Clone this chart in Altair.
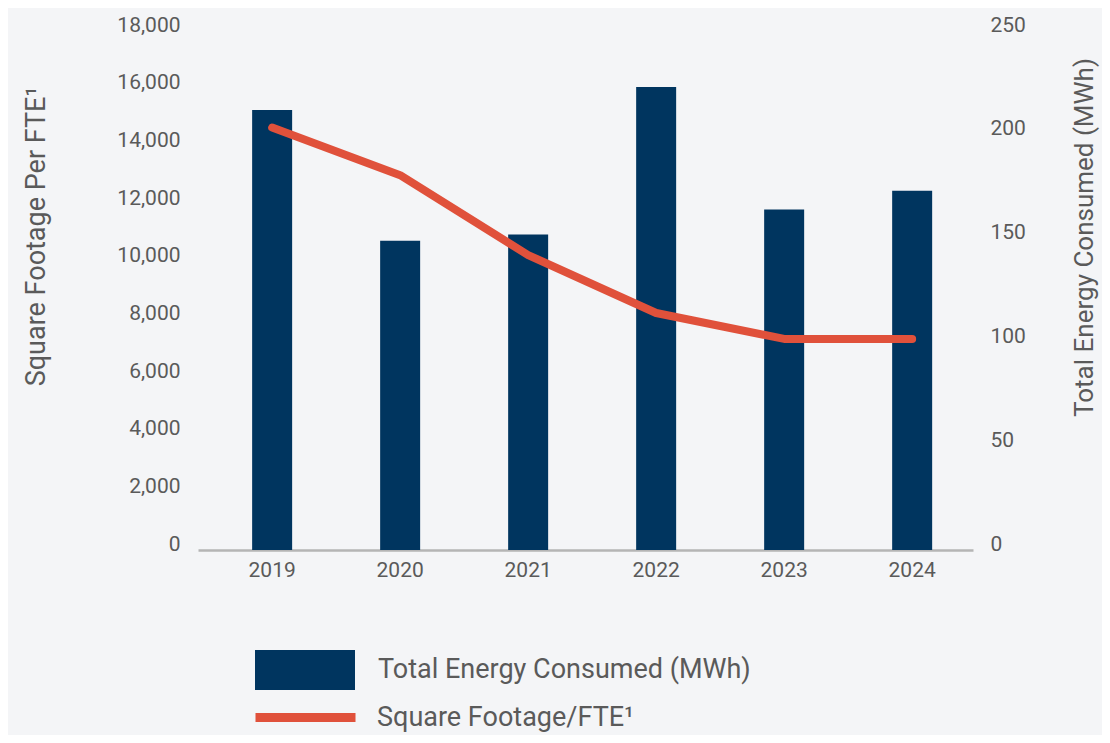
import altair as alt
import pandas as pd

years = ["2019", "2020", "2021", "2022", "2023", "2024"]
energy_mwh = [212, 149, 152, 223, 164, 173]
sqft_per_fte = [14650, 13000, 10230, 8220, 7320, 7320]

bar_label = "Total Energy Consumed (MWh)"
line_label = "Square Footage/FTE¹"

df = pd.DataFrame({"year": years, "energy": energy_mwh, "sqft": sqft_per_fte})

NAVY = "#00355F"
RED = "#E0513B"
TEXT = "#5A5A5A"
BG = "#F4F5F7"
FONT = "Roboto"

x = alt.X(
    "year:N",
    title=None,
    sort=years,
    scale=alt.Scale(paddingInner=0.6875, paddingOuter=0.371, align=0.57),
    axis=alt.Axis(
        labelAngle=0, labelFontSize=21, labelColor=TEXT, labelFont=FONT,
        ticks=False, domainColor="#B5B5B5", domainWidth=2.5, labelPadding=9,
        grid=False,
    ),
)

bars = alt.Chart(df).transform_calculate(s=f"'{bar_label}'").mark_bar(color=NAVY).encode(
    x=x,
    y=alt.Y(
        "energy:Q",
        title="Total Energy Consumed (MWh)",
        scale=alt.Scale(domain=[0, 250], nice=False),
        axis=alt.Axis(
            orient="right", values=[0, 50, 100, 150, 200, 250], grid=False, domain=False,
            ticks=False, labelFontSize=21, labelColor=TEXT, labelFont=FONT,
            labelBaseline="alphabetic", labelPadding=17, labelOverlap=False,
            titleFontSize=26, titleFont=FONT, titleColor=TEXT, titleFontWeight="normal",
            titleAngle=270, titleAlign="center", titleBaseline="middle",
            titleX=111, titleY=206,
        ),
    ),
    fill=alt.Fill(
        "s:N",
        scale=alt.Scale(domain=[bar_label], range=[NAVY]),
        legend=alt.Legend(
            title=None, orient="none", legendX=57, legendY=589,
            symbolType="M-1,-0.4H1V0.4H-1Z", symbolSize=10000, symbolStrokeWidth=0,
            symbolOpacity=1, labelFontSize=27, labelFont=FONT, labelColor=TEXT,
            labelOffset=23, labelLimit=600,
        ),
    ),
)

line = alt.Chart(df).transform_calculate(s=f"'{line_label}'").mark_line(
    color=RED, strokeWidth=8, strokeCap="round", strokeJoin="round"
).encode(
    x=x,
    y=alt.Y(
        "sqft:Q",
        title="Square Footage Per FTE¹",
        scale=alt.Scale(domain=[0, 18000], nice=False),
        axis=alt.Axis(
            orient="left", values=list(range(0, 18001, 2000)), format=",d", grid=False,
            domain=False, ticks=False, labelFontSize=21, labelColor=TEXT, labelFont=FONT,
            labelBaseline="alphabetic", labelPadding=18, labelOverlap=False,
            titleFontSize=27, titleFont=FONT, titleColor=TEXT, titleFontWeight="normal",
            titleAngle=270, titleAlign="center", titleBaseline="middle",
            titleX=-162, titleY=205,
        ),
    ),
    stroke=alt.Stroke(
        "s:N",
        scale=alt.Scale(domain=[line_label], range=[RED]),
        legend=alt.Legend(
            title=None, orient="none", legendX=53, legendY=632,
            symbolType="M-1,0H1", symbolSize=10000, symbolStrokeWidth=9,
            symbolStrokeColor=RED, labelFontSize=27, labelFont=FONT, labelColor=TEXT,
            labelOffset=17, labelLimit=600,
        ),
    ),
)

chart = alt.layer(bars, line).resolve_scale(y="independent").properties(
    width=775,
    height=519,
    background=BG,
    padding={"left": 190, "top": 23, "right": 129, "bottom": 185},
    autosize=alt.AutoSizeParams(type="none"),
).configure_view(stroke=None)

chart.save("out.html", embed_options={"renderer": "svg", "actions": False})
